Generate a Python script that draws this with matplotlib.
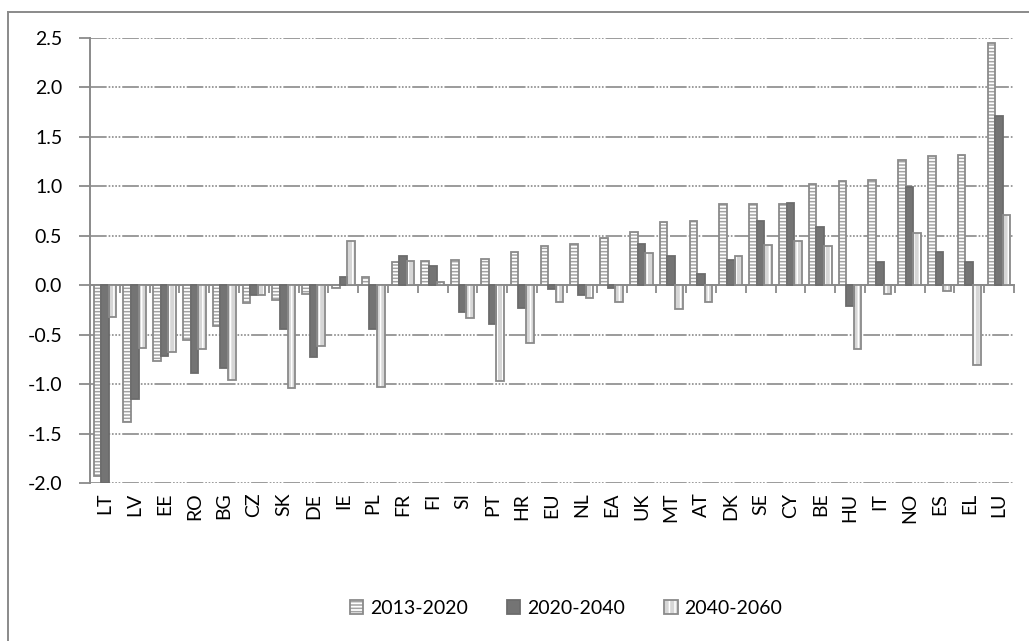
import matplotlib
matplotlib.use("Agg")
import matplotlib.pyplot as plt
import numpy as np
from matplotlib.patches import Patch
from matplotlib.legend_handler import HandlerTuple
from matplotlib.lines import Line2D

# Country codes along the x axis
countries = ["LT", "LV", "EE", "RO", "BG", "CZ", "SK", "DE", "IE", "PL", "FR",
             "FI", "SI", "PT", "HR", "EU", "NL", "EA", "UK", "MT", "AT", "DK",
             "SE", "CY", "BE", "HU", "IT", "NO", "ES", "EL", "LU"]

# Average annual change per period
p2013_2020 = [-1.93, -1.38, -0.77, -0.55, -0.41, -0.18, -0.15, -0.09, -0.03, 0.08, 0.23,
              0.24, 0.26, 0.27, 0.34, 0.40, 0.42, 0.48, 0.54, 0.64, 0.65, 0.82,
              0.82, 0.82, 1.02, 1.05, 1.06, 1.27, 1.31, 1.32, 2.45]
p2020_2040 = [-2.00, -1.15, -0.72, -0.89, -0.84, -0.10, -0.44, -0.73, 0.08, -0.44, 0.30,
              0.19, -0.27, -0.39, -0.23, -0.04, -0.10, -0.03, 0.42, 0.30, 0.11, 0.26,
              0.65, 0.83, 0.59, -0.21, 0.23, 0.99, 0.34, 0.23, 1.71]
p2040_2060 = [-0.32, -0.63, -0.68, -0.64, -0.96, -0.10, -1.04, -0.61, 0.45, -1.03, 0.25,
              0.03, -0.33, -0.97, -0.58, -0.17, -0.13, -0.17, 0.33, -0.24, -0.17, 0.30,
              0.41, 0.45, 0.40, -0.64, -0.09, 0.53, -0.06, -0.81, 0.71]

series_labels = ["2013-2020", "2020-2040", "2040-2060"]
y_ticks = [-2.0, -1.5, -1.0, -0.5, 0.0, 0.5, 1.0, 1.5, 2.0, 2.5]

plt.rcParams["font.family"] = ["Lato", "DejaVu Sans"]
plt.rcParams["lines.scale_dashes"] = False
plt.rcParams["hatch.linewidth"] = 1.1

GRAY = "#8a8a8a"
FS = 14
styles = [
    dict(face="#ffffff", hatch="-----", hatchcol="#a3a3a3", edge="#8a8a8a"),
    dict(face="#747474", hatch=None, hatchcol="#747474", edge="#6c6c6c"),
    dict(face="#d6d6d6", hatch="|||", hatchcol="#ffffff", edge="#8a8a8a"),
]

fig = plt.figure(figsize=(10.29, 6.41), dpi=100)
ax = fig.add_axes([90 / 1029, 1 - 483 / 641, (1014 - 90) / 1029, (483 - 38) / 641])

x = np.arange(len(countries))
width = 0.255
offsets = [-width, 0.0, width]
series = [p2013_2020, p2020_2040, p2040_2060]

handles = []
for vals, off, st, lab in zip(series, offsets, styles, series_labels):
    ax.bar(x + off, vals, width, color=st["face"], edgecolor=st["hatchcol"],
           linewidth=0, hatch=st["hatch"], zorder=3)
    ax.bar(x + off, vals, width, fill=False, edgecolor=st["edge"],
           linewidth=1.3, zorder=4)
    h1 = Patch(facecolor=st["face"], edgecolor=st["hatchcol"], linewidth=0,
               hatch=st["hatch"])
    h2 = Patch(fill=False, edgecolor=st["edge"], linewidth=1.3)
    handles.append((h1, h2))

ax.set_xlim(-0.5, len(countries) - 0.5)
ax.set_ylim(-2.0, 2.5)
ax.set_yticks(y_ticks)
ax.set_yticklabels([f"{v:.1f}" for v in y_ticks], fontsize=FS)
ax.tick_params(axis="y", direction="out", length=8, width=1.3, color=GRAY, pad=12)

# Category labels sit under the plot, rotated
ax.set_xticks(x)
ax.set_xticklabels(countries, rotation=90, fontsize=FS)
ax.tick_params(axis="x", length=0, pad=7)

# Dash-dot-dot grid
ax.set_axisbelow(True)
ax.yaxis.grid(True, color=GRAY, linewidth=1.2,
              linestyle=(0, (12, 1.4, 1.2, 1.2, 1.2, 1.2, 1.2, 1.2, 1.2, 1.4)),
              zorder=0)

for side in ["top", "right", "bottom"]:
    ax.spines[side].set_visible(False)
ax.spines["left"].set_color(GRAY)
ax.spines["left"].set_linewidth(1.4)

# Horizontal axis line at zero with tick marks between categories
zax = ax.secondary_xaxis(0, transform=ax.transData)
zax.spines["bottom"].set_color(GRAY)
zax.spines["bottom"].set_linewidth(1.4)
zax.spines["bottom"].set_zorder(5)
zax.set_xticks(np.arange(len(countries) + 1) - 0.5)
zax.set_xticklabels([])
zax.tick_params(axis="x", direction="out", length=6, width=1.3, color=GRAY)

leg = fig.legend(handles, series_labels, loc="center", ncol=3,
                 bbox_to_anchor=(566 / 1029, 1 - 608 / 641), frameon=False,
                 fontsize=FS, handler_map={tuple: HandlerTuple(ndivide=1)},
                 handlelength=0.7, handleheight=0.7, handletextpad=0.35,
                 columnspacing=2.0)

# Outer chart frame (top and left edges)
fig.add_artist(Line2D([8 / 1029, 8 / 1029], [0, 1 - 12 / 641],
                      transform=fig.transFigure, color=GRAY, linewidth=1.4))
fig.add_artist(Line2D([8 / 1029, 1], [1 - 12 / 641, 1 - 12 / 641],
                      transform=fig.transFigure, color=GRAY, linewidth=1.4))

fig.savefig("out.png", dpi=100)
